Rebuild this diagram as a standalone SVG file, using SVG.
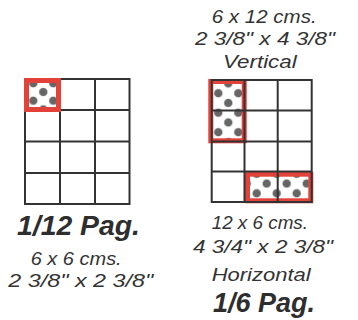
<svg xmlns="http://www.w3.org/2000/svg" width="358" height="320" viewBox="0 0 358 320">
<style>
.grid{fill:none;stroke:#333;stroke-width:2}
.box{stroke:#e2423a;stroke-width:5}
.t{font-family:"Liberation Sans","Open Sans",sans-serif;font-style:italic;font-size:18.5px;fill:#333}
.b{font-family:"Liberation Sans","Open Sans",sans-serif;font-style:italic;font-weight:bold;font-size:27px;fill:#2e2e2e}
</style>
<defs>
<pattern id="dotsL" patternUnits="userSpaceOnUse" x="33.3" y="100.7" width="20" height="17.4">
<rect width="20" height="17.4" fill="#fff"/>
<circle cx="0" cy="0" r="4.2" fill="#666"/><circle cx="20" cy="0" r="4.2" fill="#666"/>
<circle cx="10" cy="8.7" r="4.2" fill="#666"/>
<circle cx="0" cy="17.4" r="4.2" fill="#666"/><circle cx="20" cy="17.4" r="4.2" fill="#666"/>
</pattern>
<pattern id="dotsV" patternUnits="userSpaceOnUse" x="218.3" y="112.7" width="20" height="19.5">
<rect width="20" height="19.5" fill="#fff"/>
<circle cx="0" cy="0" r="4.2" fill="#666"/><circle cx="20" cy="0" r="4.2" fill="#666"/>
<circle cx="10" cy="9.75" r="4.2" fill="#666"/>
<circle cx="0" cy="19.5" r="4.2" fill="#666"/><circle cx="20" cy="19.5" r="4.2" fill="#666"/>
</pattern>
<pattern id="dotsH" patternUnits="userSpaceOnUse" x="256.7" y="193.3" width="20" height="19.5">
<rect width="20" height="19.5" fill="#fff"/>
<circle cx="0" cy="0" r="4.2" fill="#666"/><circle cx="20" cy="0" r="4.2" fill="#666"/>
<circle cx="10" cy="9.75" r="4.2" fill="#666"/>
<circle cx="0" cy="19.5" r="4.2" fill="#666"/><circle cx="20" cy="19.5" r="4.2" fill="#666"/>
</pattern>
</defs>
<rect width="358" height="320" fill="#fff"/>

<g id="grid-1-12">
<rect class="grid" x="25" y="79" width="104.5" height="125"/>
<path class="grid" d="M60,79V204M95,79V204M25,110H129.5M25,141.5H129.5M25,173H129.5"/>
<rect class="box" x="26.5" y="80.5" width="32" height="29" fill="url(#dotsL)"/>
</g>

<g id="grid-1-6">
<rect class="box" x="210.8" y="81.5" width="33.4" height="59.3" fill="url(#dotsV)"/>
<rect class="box" x="247.5" y="174.2" width="63.3" height="26.6" fill="url(#dotsH)"/>
<rect class="grid" x="211.7" y="80" width="100" height="122"/>
<path class="grid" d="M244.5,80V202M277.7,80V202M211.7,110.5H311.7M211.7,141.5H311.7M211.7,171.5H311.7"/>
</g>

<g id="labels-1-12">
<text class="b" x="17" y="235" textLength="123" lengthAdjust="spacingAndGlyphs">1/12 Pag.</text>
<text class="t" x="30.7" y="265" textLength="91" lengthAdjust="spacingAndGlyphs">6 x 6 cms.</text>
<text class="t" x="8.3" y="287.4" textLength="145" lengthAdjust="spacingAndGlyphs">2 3/8" x 2 3/8"</text>
</g>

<g id="labels-1-6">
<text class="t" x="211.7" y="23.3" textLength="105" lengthAdjust="spacingAndGlyphs">6 x 12 cms.</text>
<text class="t" x="195" y="45" textLength="140" lengthAdjust="spacingAndGlyphs">2 3/8" x 4 3/8"</text>
<text class="t" x="223" y="68.3" textLength="73.7" lengthAdjust="spacingAndGlyphs">Vertical</text>
<text class="t" x="211.7" y="229.3" textLength="96.3" lengthAdjust="spacingAndGlyphs">12 x 6 cms.</text>
<text class="t" x="193" y="253.3" textLength="140" lengthAdjust="spacingAndGlyphs">4 3/4" x 2 3/8"</text>
<text class="t" x="211.7" y="281" textLength="99" lengthAdjust="spacingAndGlyphs">Horizontal</text>
<text class="b" x="213" y="311.7" textLength="102" lengthAdjust="spacingAndGlyphs">1/6 Pag.</text>
</g>
</svg>
